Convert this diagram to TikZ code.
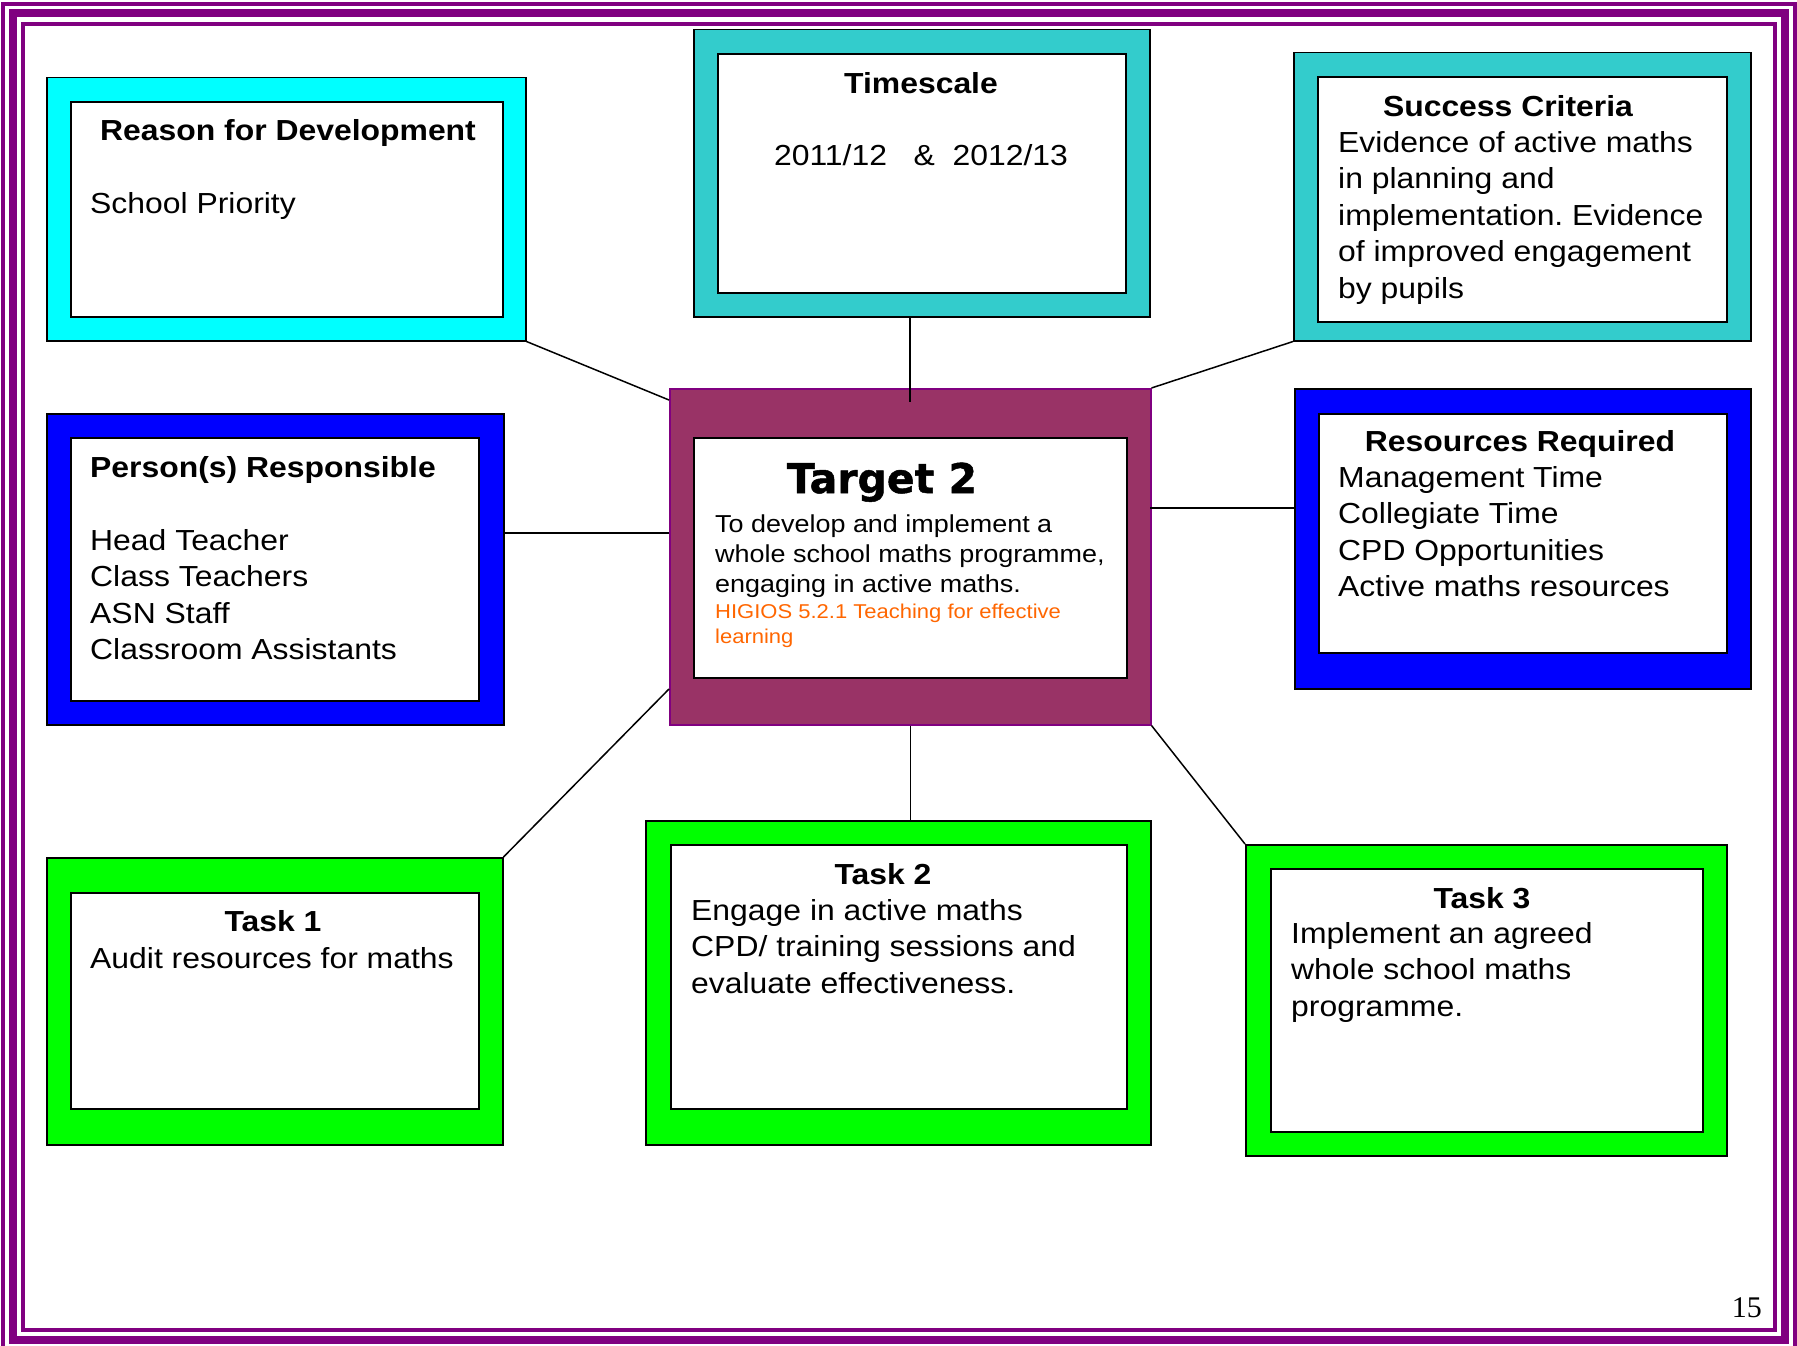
\documentclass[tikz,border=0pt]{standalone}
\usepackage{fontspec}
\setmainfont{Liberation Sans}[FakeStretch=1.1]
\newfontfamily\targetfont{DejaVu Sans}[BoldFeatures={FakeBold=1.2}]
\newfontfamily\pagefont{Liberation Serif}
\usetikzlibrary{positioning}
\frenchspacing

\definecolor{aquabox}{HTML}{00FFFF}
\definecolor{tealbox}{HTML}{33CCCC}
\definecolor{bluebox}{HTML}{0000FF}
\definecolor{greenbox}{HTML}{00FF00}
\definecolor{plumbox}{HTML}{993366}
\definecolor{pageline}{HTML}{800080}
\definecolor{higios}{HTML}{FF6600}

\tikzset{
	frame/.style={draw=black, line width=1.5pt, anchor=north west, inner sep=0pt},
	pane/.style={draw=black, line width=2pt, fill=white, anchor=north west, inner sep=0pt},
	heading/.style={font=\fontsize{29}{36.5}\selectfont\bfseries, inner sep=0pt, anchor=base},
	body/.style={font=\fontsize{29}{36.5}\selectfont, inner sep=0pt, align=left, anchor=north west},
	link/.style={draw=black, line width=1.5pt}
}

\begin{document}
\begin{tikzpicture}[x=1pt, y=-1pt]
	\fill[white] (0,0) rectangle (1797,1346);
	\useasboundingbox (0,0) rectangle (1797,1346);
	\draw[pageline, line width=4pt] (3,4) rectangle (1795,1352);
	\draw[pageline, line width=8pt] (13,13.5) rectangle (1785,1340);
	\draw[pageline, line width=4pt] (23,24) rectangle (1775,1330);

	\node[frame, fill=aquabox, minimum width=479pt, minimum height=263pt] (reason) at (46,77) {};
	\node[pane, minimum width=432pt, minimum height=215pt] (reason-in) at (70,101) {};
	\node[frame, fill=tealbox, minimum width=456pt, minimum height=287pt] (time) at (693,29) {};
	\node[pane, minimum width=408pt, minimum height=239pt] (time-in) at (717,53) {};
	\node[frame, fill=tealbox, minimum width=457pt, minimum height=288pt] (success) at (1293,52) {};
	\node[pane, minimum width=409pt, minimum height=245pt] (success-in) at (1317,76) {};
	\node[frame, draw=pageline, fill=plumbox, minimum width=481pt, minimum height=336pt] (target) at (669,388) {};
	\node[pane, minimum width=433pt, minimum height=240pt] (target-in) at (693,437) {};
	\node[frame, fill=bluebox, minimum width=457pt, minimum height=311pt] (person) at (46,413) {};
	\node[pane, minimum width=408pt, minimum height=263pt] (person-in) at (70,437) {};
	\node[frame, fill=bluebox, minimum width=456pt, minimum height=300pt] (resources) at (1294,388) {};
	\node[pane, minimum width=408pt, minimum height=239pt] (resources-in) at (1318,413) {};
	\node[frame, fill=greenbox, minimum width=456pt, minimum height=287pt] (task1) at (46,857) {};
	\node[pane, minimum width=408pt, minimum height=216pt] (task1-in) at (70,892) {};
	\node[frame, fill=greenbox, minimum width=505pt, minimum height=324pt] (task2) at (645,820) {};
	\node[pane, minimum width=456pt, minimum height=264pt] (task2-in) at (670,844) {};
	\node[frame, fill=greenbox, minimum width=481pt, minimum height=311pt] (task3) at (1245,844) {};
	\node[pane, minimum width=432pt, minimum height=263pt] (task3-in) at (1270,868) {};

	\node[heading] (reason-title) at (288,140) {Reason for Development};
	\node[body, anchor=base west] (reason-text) at (90,213) {School Priority};
	\node[heading] (time-title) at (921,93) {Timescale};
	\node[body, anchor=base] (time-text) at (921,165) {2011/12\ \ \ \&\ \ 2012/13};
	\node[heading] (success-title) at (1508,117) {Success Criteria};
	\node[body] (success-text) at (1338,126.5) {\strut Evidence of active maths\\in planning and\\implementation. Evidence\\of improved engagement\\by pupils};
	\node[heading, font=\targetfont\fontsize{41}{48}\selectfont\bfseries] (target-title) at (882,493) {Target 2};
	\node[body, font=\fontsize{24.5}{30}\selectfont] (target-text) at (715,511) {\strut To develop and implement a\\whole school maths programme,\\engaging in active maths.};
	\node[body, font=\fontsize{20}{25}\selectfont, text=higios] (target-note) at (715,600.5) {\strut HIGIOS 5.2.1 Teaching for effective\\learning};
	\node[heading, anchor=base west] (person-title) at (90,477) {Person(s) Responsible};
	\node[body] (person-text) at (90,524.5) {\strut Head Teacher\\Class Teachers\\ASN Staff\\Classroom Assistants};
	\node[heading] (resources-title) at (1520,451) {Resources Required};
	\node[body] (resources-text) at (1338,461.5) {\strut Management Time\\Collegiate Time\\CPD Opportunities\\Active maths resources};
	\node[heading] (task1-title) at (273,931) {Task 1};
	\node[body, anchor=base west] (task1-text) at (90,968) {Audit resources for maths};
	\node[heading] (task2-title) at (883,884) {Task 2};
	\node[body] (task2-text) at (691,894.5) {\strut Engage in active maths\\CPD/ training sessions and\\evaluate effectiveness.};
	\node[heading] (task3-title) at (1482,908) {Task 3};
	\node[body] (task3-text) at (1291,917.5) {\strut Implement an agreed\\whole school maths\\programme.};
	\node[heading, font=\pagefont\fontsize{30}{36}\selectfont, anchor=base east] (page) at (1762,1317) {15};

	\coordinate (tgt-reason) at (669,400);
	\coordinate (tgt-time) at (910,402);
	\coordinate (tgt-person) at (669,533);
	\coordinate (tgt-resources) at (1150,508);
	\coordinate (tgt-task1) at (669,689);

	\path[link] (reason.south east) -- (tgt-reason);
	\path[link] (time.south -| tgt-time) -- (tgt-time);
	\path[link] (success.south west) -- (target.north east);
	\path[link] (person.east |- tgt-person) -- (tgt-person);
	\path[link] (tgt-resources) -- (tgt-resources -| resources.west);
	\path[link] (task1.north east) -- (tgt-task1);
	\path[link] (target.south) -- (target.south |- task2.north);
	\path[link] (target.south east) -- (task3.north west);
\end{tikzpicture}
\end{document}
